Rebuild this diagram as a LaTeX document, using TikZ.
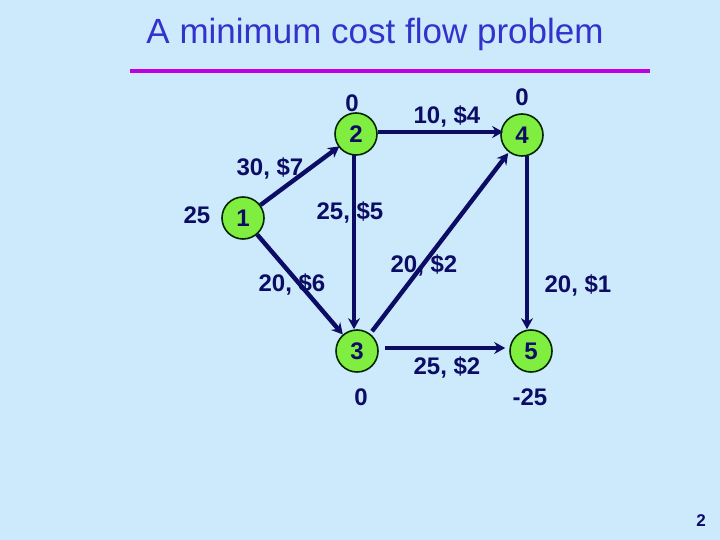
\documentclass[tikz,border=0pt]{standalone}
\usepackage{fontspec}
\setmainfont{Liberation Sans}
\usetikzlibrary{arrows.meta}
\definecolor{bg}{RGB}{204,234,252}
\definecolor{navy}{RGB}{12,12,100}
\definecolor{titleblue}{RGB}{51,51,204}
\definecolor{mag}{RGB}{190,0,224}
\definecolor{nodegreen}{RGB}{128,238,64}
\tikzset{
  vert/.style={circle, draw=black!85!green, line width=1.6pt, fill=nodegreen, minimum size=42pt, inner sep=0pt, font=\fontsize{24}{24}\selectfont\bfseries, text=navy},
  lbl/.style={font=\fontsize{24}{24}\selectfont\bfseries, text=navy, inner sep=0pt},
  arc/.style={draw=navy, line width=4.4pt, -{Stealth[length=11pt,width=12pt]}}
}
\begin{document}
\begin{tikzpicture}[x=1pt,y=-1pt]
\fill[bg] (0,0) rectangle (720,540);
\useasboundingbox (0,0) rectangle (720,540);
\node[font=\fontsize{35}{35}\selectfont, text=titleblue] (title) at (375,34) {A minimum cost flow problem};
\coordinate (la) at (130,71);
\coordinate (lb) at (650,71);
\draw[mag, line width=4.5pt] (la) -- (lb);
\node[vert] (n1) at (243,218) {1};
\node[vert] (n2) at (356,134) {2};
\node[vert] (n4) at (522,135) {4};
\node[vert] (n3) at (357,351) {3};
\node[vert] (n5) at (531,351) {5};
\coordinate (v23) at (354,0);
\coordinate (v45) at (527,0);
\coordinate (h24) at (0,132);
\coordinate (h35) at (0,348);
\draw[arc, shorten >=-1pt] (n1) -- (n2);
\draw[arc, shorten >=-3pt] (h24 -| n2.east) -- (h24 -| n4.west);
\draw[arc, shorten <=-1pt] (n2.south -| v23) -- (n3.north -| v23);
\draw[arc] (n1) -- (n3);
\draw[arc, shorten <=-1pt] (n4.south -| v45) -- (n5.north -| v45);
\draw[arc, shorten <=3pt, shorten >=1pt] (n3) -- (n4);
\draw[arc, shorten <=6pt, shorten >=4pt] (h35 -| n3.east) -- (h35 -| n5.west);
\node[lbl] (s2) at (352,103) {0};
\node[lbl] (s4) at (522,97) {0};
\node[lbl] (s1) at (197,215) {25};
\node[lbl] (s3) at (361,397) {0};
\node[lbl] (s5) at (530,397) {-25};
\node[lbl] (e24) at (447,116) {10, \$4};
\node[lbl] (e12) at (270,168) {30, \$7};
\node[lbl] (e23) at (350,212) {25, \$5};
\node[lbl] (e34) at (424,265) {20, \$2};
\node[lbl] (e13) at (292,284) {20, \$6};
\node[lbl] (e45) at (578,285) {20, \$1};
\node[lbl] (e35) at (447,367) {25, \$2};
\node[font=\fontsize{17}{17}\selectfont\bfseries, text=navy] (pg) at (701,521) {2};
\end{tikzpicture}
\end{document}
